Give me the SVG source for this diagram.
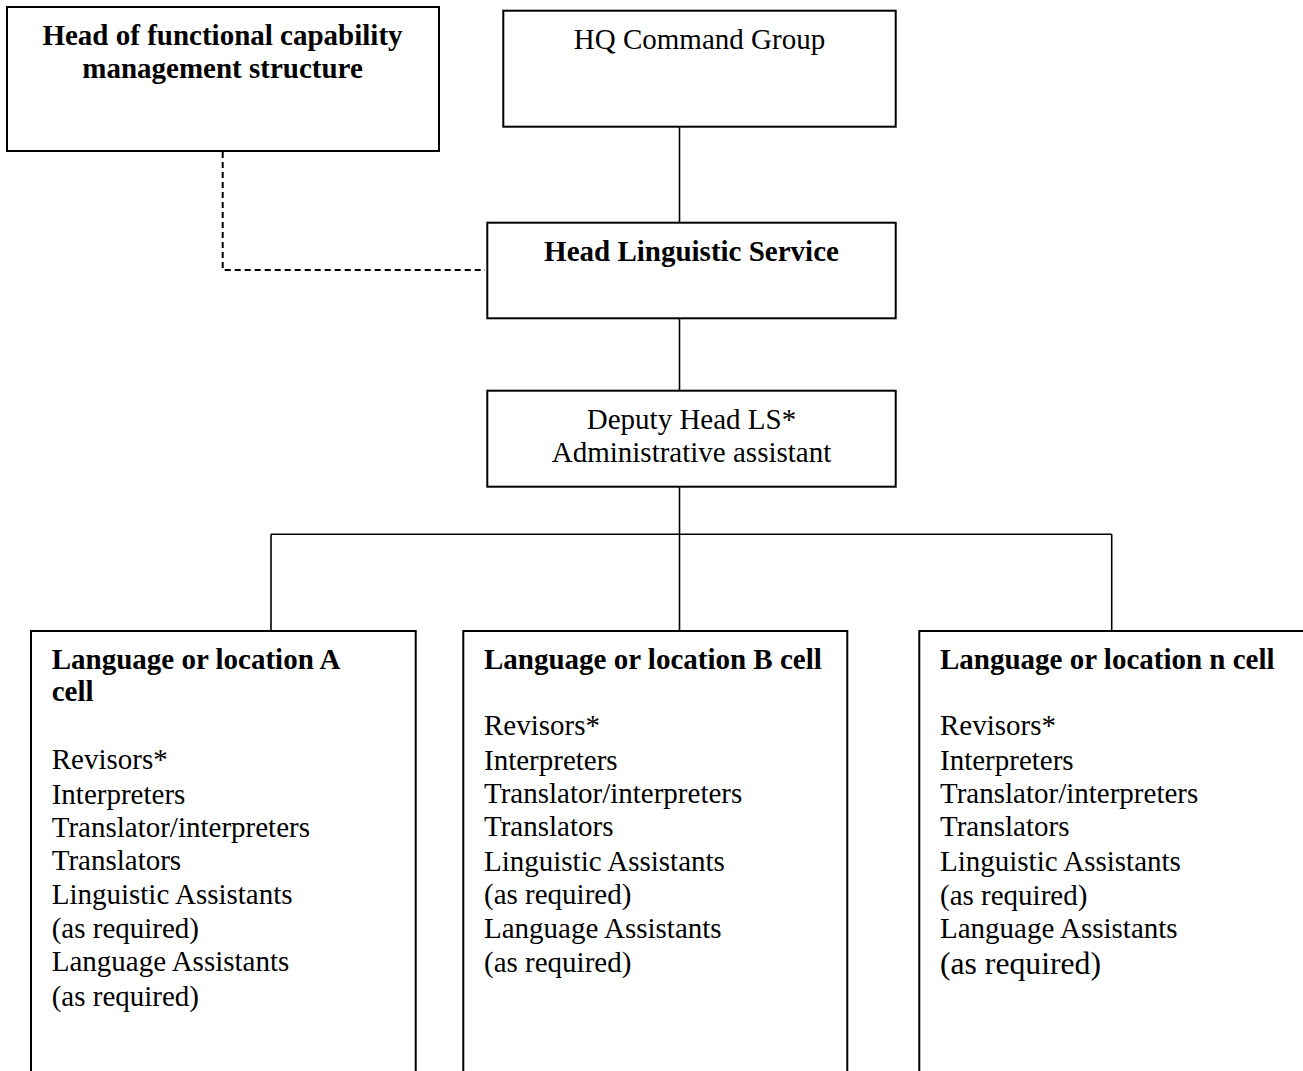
<svg xmlns="http://www.w3.org/2000/svg" width="1303" height="1071" viewBox="0 0 1303 1071">
<style>
.box{fill:#fff;stroke:#000;stroke-width:2}
.t{font-family:"Liberation Serif","Times New Roman",serif;font-size:29px;fill:#000}
.b{font-weight:bold}
.c{text-anchor:middle}
.ln{fill:none;stroke:#000;stroke-width:1.6}
.dash{fill:none;stroke:#000;stroke-width:2;stroke-dasharray:6 4}
</style>
<rect width="1303" height="1071" fill="#fff"/>
<g id="connectors">
<path class="dash" d="M222.7,152 V270 H485"/>
<line class="ln" x1="679.5" y1="126.7" x2="679.5" y2="222.7"/>
<line class="ln" x1="679.5" y1="318.3" x2="679.5" y2="390.7"/>
<line class="ln" x1="679.5" y1="486.7" x2="679.5" y2="534.3"/>
<line class="ln" x1="271" y1="534.3" x2="1111.7" y2="534.3"/>
<line class="ln" x1="271" y1="534.3" x2="271" y2="631"/>
<line class="ln" x1="679.5" y1="534.3" x2="679.5" y2="631"/>
<line class="ln" x1="1111.7" y1="534.3" x2="1111.7" y2="631"/>
</g>
<g id="head-functional">
<rect class="box" x="7" y="7" width="432" height="144"/>
<text class="t b c" x="222.5" y="45">Head of functional capability</text>
<text class="t b c" x="222.5" y="78">management structure</text>
</g>
<g id="hq-command">
<rect class="box" x="503.3" y="10.7" width="392.4" height="116"/>
<text class="t c" x="699.5" y="49.3">HQ Command Group</text>
</g>
<g id="head-ls">
<rect class="box" x="487.3" y="222.7" width="408.4" height="95.6"/>
<text class="t b c" x="691.5" y="260.7">Head Linguistic Service</text>
</g>
<g id="deputy">
<rect class="box" x="487.3" y="390.7" width="408.4" height="96"/>
<text class="t c" x="691.5" y="428.7">Deputy Head LS*</text>
<text class="t c" x="691.5" y="462.3">Administrative assistant</text>
</g>
<g id="cell-a">
<path class="box" d="M31,1075 V631 H415.7 V1075"/>
<text class="t b" x="51.7" y="669.3">Language or location A</text>
<text class="t b" x="51.7" y="701">cell</text>
<text class="t" x="51.7" y="769.3">Revisors*</text>
<text class="t" x="51.7" y="803.7">Interpreters</text>
<text class="t" x="51.7" y="837">Translator/interpreters</text>
<text class="t" x="51.7" y="870.3">Translators</text>
<text class="t" x="51.7" y="904.3">Linguistic Assistants</text>
<text class="t" x="51.7" y="937.7">(as required)</text>
<text class="t" x="51.7" y="971">Language Assistants</text>
<text class="t" x="51.7" y="1005.7">(as required)</text>
</g>
<g id="cell-b">
<path class="box" d="M463.3,1075 V631 H847.3 V1075"/>
<text class="t b" x="484" y="669.3">Language or location B cell</text>
<text class="t" x="484" y="735">Revisors*</text>
<text class="t" x="484" y="769.7">Interpreters</text>
<text class="t" x="484" y="803">Translator/interpreters</text>
<text class="t" x="484" y="836.3">Translators</text>
<text class="t" x="484" y="870.7">Linguistic Assistants</text>
<text class="t" x="484" y="904.3">(as required)</text>
<text class="t" x="484" y="938.3">Language Assistants</text>
<text class="t" x="484" y="972.3">(as required)</text>
</g>
<g id="cell-n">
<path class="box" d="M919.3,1075 V631 H1310"/>
<text class="t b" x="940" y="669">Language or location n cell</text>
<text class="t" x="940" y="735">Revisors*</text>
<text class="t" x="940" y="769.7">Interpreters</text>
<text class="t" x="940" y="803">Translator/interpreters</text>
<text class="t" x="940" y="836.3">Translators</text>
<text class="t" x="940" y="870.7">Linguistic Assistants</text>
<text class="t" x="940" y="905">(as required)</text>
<text class="t" x="940" y="938.3">Language Assistants</text>
<text class="t" x="940" y="974" style="font-size:31.7px">(as required)</text>
</g>
</svg>
